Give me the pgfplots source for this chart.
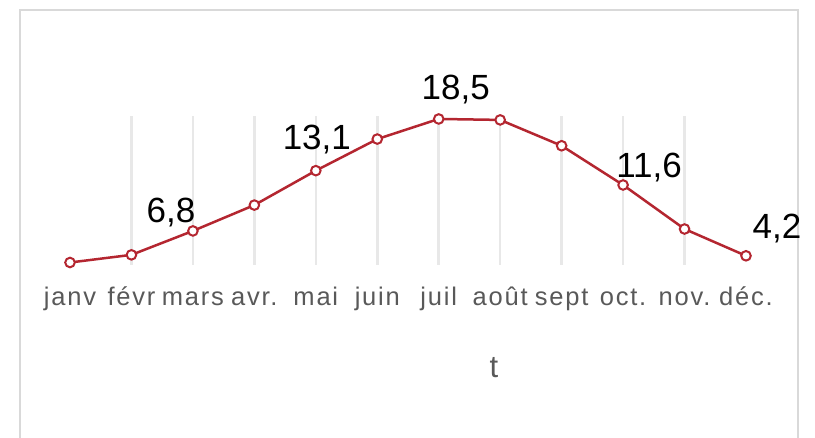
\documentclass[border=0pt]{standalone}
\usepackage{pgfplots}
\pgfplotsset{compat=1.18}
\usepackage{fontspec}
\setmainfont{Liberation Sans}
\newfontfamily\tickfont[LetterSpace=7]{Liberation Sans}
\definecolor{linered}{RGB}{180,38,48}
\definecolor{gridgray}{RGB}{232,232,232}
\definecolor{framegray}{RGB}{217,217,217}
\definecolor{labgray}{RGB}{89,89,89}
\begin{document}
\begin{tikzpicture}
\useasboundingbox (0,0) rectangle (815pt,438pt);
\fill[white] (0,0) rectangle (815pt,438pt);
\draw[framegray, line width=2pt] (20pt,0pt) -- (20pt,428pt) -- (798pt,428pt) -- (798pt,0pt);
\begin{axis}[
  at={(70pt,173pt)}, anchor=south west,
  scale only axis, width=676pt, height=149pt,
  xmin=0, xmax=11, ymin=3.24, ymax=18.81,
  axis line style={draw=none},
  ytick=\empty,
  xtick={0,...,11},
  xticklabels={janv,févr,mars,avr.,mai,juin,juil,août,sept,oct.,nov.,déc.},
  xticklabel style={anchor=base, yshift=-41pt, text=labgray, font=\tickfont\fontsize{25.5}{30}\selectfont},
  major tick length=0pt,
  extra x ticks={1,...,10},
  extra x tick labels={},
  extra x tick style={grid=major, major tick length=0pt},
  grid style={draw=gridgray, line width=2.5pt},
  clip=false,
]
\addplot[color=linered, line width=2.5pt, mark=*, mark size=4.8pt,
  mark options={fill=white, draw=linered, line width=2pt}]
  coordinates {(0,3.5) (1,4.3) (2,6.8) (3,9.5) (4,13.1) (5,16.4) (6,18.5) (7,18.4) (8,15.7) (9,11.6) (10,7.0) (11,4.2)};
\begin{scope}[every node/.style={anchor=base, font=\fontsize{35}{40}\selectfont, text=black, inner sep=0pt}]
\node[xshift=-22pt, yshift=8pt] at (axis cs:2,6.8) {6,8};
\node[xshift=1pt, yshift=21pt] at (axis cs:4,13.1) {13,1};
\node[xshift=17pt, yshift=19pt] at (axis cs:6,18.5) {18,5};
\node[xshift=26pt, yshift=7pt] at (axis cs:9,11.6) {11,6};
\node[xshift=31pt, yshift=17pt] at (axis cs:11,4.2) {4,2};
\end{scope}
\end{axis}
\node[anchor=base, text=labgray, font=\fontsize{31}{34}\selectfont, inner sep=0pt] at (494pt,60pt) {t};
\end{tikzpicture}
\end{document}
